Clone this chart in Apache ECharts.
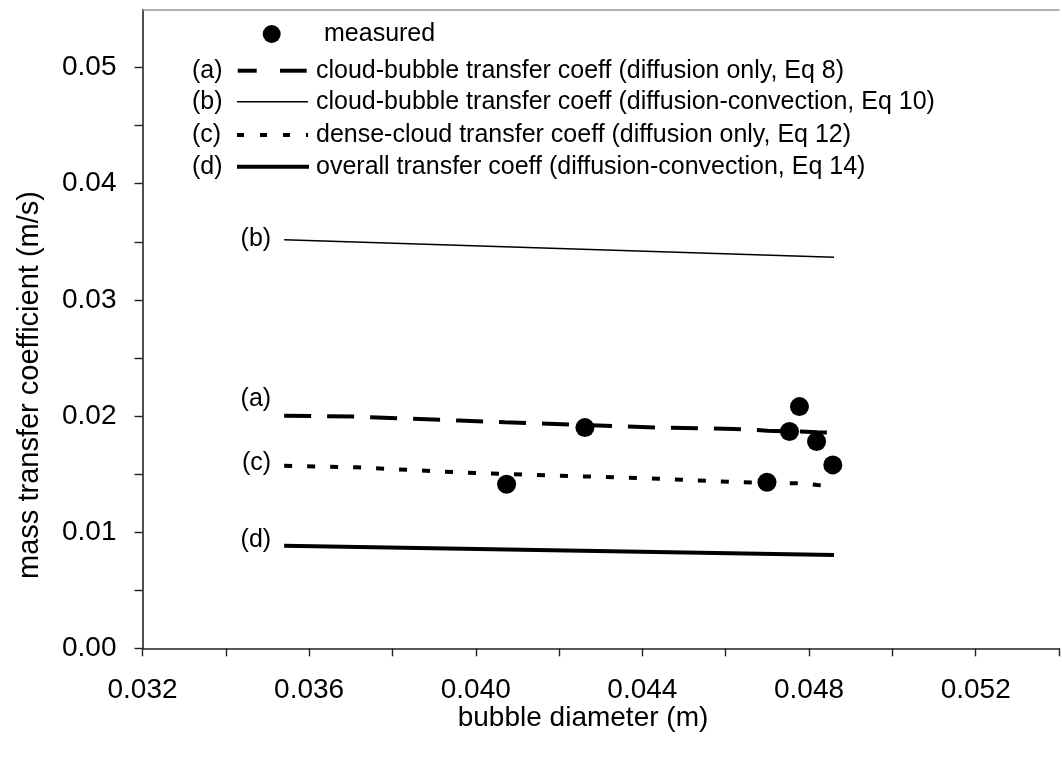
<!DOCTYPE html>
<html><head><meta charset="utf-8">
<script src="https://cdn.jsdelivr.net/npm/echarts@6.0.0/dist/echarts.min.js"></script>
<style>html,body{margin:0;padding:0;background:#fff}#c{width:1062px;height:765px}</style>
</head><body><div id="c"></div>
<script>
// ---- data ----
const xMeasured = [0.04074, 0.04262, 0.04699, 0.04753, 0.04777, 0.04818, 0.04857];
const yMeasured = [0.01413, 0.01900, 0.01430, 0.01866, 0.02081, 0.01780, 0.01579];

const xModel = [0.0354, 0.0371, 0.0396, 0.0407, 0.0426, 0.0444, 0.0462, 0.0470, 0.0475, 0.0478, 0.0482, 0.0486];
const yA = [0.02003, 0.01995, 0.01961, 0.01946, 0.01923, 0.01900, 0.01889, 0.01874, 0.01867, 0.01866, 0.01860, 0.01856];
const yC = [0.01571, 0.01559, 0.01515, 0.01501, 0.01480, 0.01460, 0.01432, 0.01423, 0.01421, 0.01420, 0.01406, 0.01400];

const xB = [0.0354, 0.0486];
const yB = [0.03517, 0.03366];
const xD = [0.0354, 0.0486];
const yD = [0.00884, 0.00804];

const seriesTags = ['(a)', '(b)', '(c)', '(d)'];
const legendNames = [
  'cloud-bubble transfer coeff (diffusion only, Eq 8)',
  'cloud-bubble transfer coeff (diffusion-convection, Eq 10)',
  'dense-cloud transfer coeff (diffusion only, Eq 12)',
  'overall transfer coeff (diffusion-convection, Eq 14)'
];
const measuredName = 'measured';
const xTitle = 'bubble diameter (m)';
const yTitle = 'mass transfer coefficient (m/s)';

// ---- chart ----
const FONT = '"Liberation Sans", Arial, sans-serif';
const zip = (xs, ys) => xs.map((x, i) => [x, ys[i]]);
const chart = echarts.init(document.getElementById('c'), null, {renderer: 'canvas'});

const axisCommon = {
  axisLine: {lineStyle: {color: '#222', width: 1.6}},
  axisTick: {show: true, inside: false, length: 8, lineStyle: {color: '#222', width: 1.4}},
  splitLine: {show: false},
  axisLabel: {color: '#000', fontSize: 28, fontFamily: FONT}
};

const option = {
  animation: false,
  backgroundColor: '#fff',
  grid: {left: 142.5, top: 9.5, right: -4, bottom: 116.7, containLabel: false},
  xAxis: [{
    type: 'value', min: 0.032, max: 0.054, interval: 0.002,
    ...axisCommon,
    axisLabel: {...axisCommon.axisLabel, margin: 28,
      formatter: v => { const k = Math.round((v - 0.032) / 0.002); return k % 2 === 0 ? v.toFixed(3) : ''; }}
  }, {
    type: 'value', position: 'top', min: 0.032, max: 0.054,
    axisLine: {show: true, lineStyle: {color: '#999', width: 1.5}},
    axisTick: {show: false}, axisLabel: {show: false}, splitLine: {show: false}
  }],
  yAxis: {
    type: 'value', min: 0, max: 0.055, interval: 0.005,
    ...axisCommon,
    axisLabel: {...axisCommon.axisLabel, margin: 26, showMaxLabel: false,
      formatter: v => { const k = Math.round(v / 0.005); return k % 2 === 0 ? v.toFixed(2) : ''; }}
  },
  series: [
    {name: legendNames[0], type: 'line', data: zip(xModel, yA), symbol: 'none',
     lineStyle: {color: '#000', width: 4, type: [27, 16], cap: 'butt'}, z: 2},
    {name: legendNames[1], type: 'line', data: zip(xB, yB), symbol: 'none',
     lineStyle: {color: '#000', width: 1.5}, z: 2},
    {name: legendNames[2], type: 'line', data: zip(xModel, yC), symbol: 'none',
     lineStyle: {color: '#000', width: 4, type: [8, 15], cap: 'butt'}, z: 2},
    {name: legendNames[3], type: 'line', data: zip(xD, yD), symbol: 'none',
     lineStyle: {color: '#000', width: 4}, z: 2},
    {name: measuredName, type: 'scatter', data: zip(xMeasured, yMeasured), symbol: 'circle',
     symbolSize: 19, itemStyle: {color: '#000', opacity: 1}, z: 5}
  ]
};
chart.setOption(option);

// tags at the start of each model line
const starts = [[xModel[0], yA[0]], [xB[0], yB[0]], [xModel[0], yC[0]], [xD[0], yD[0]]];
const tagDy = [-17, -1, -3, -6];
const graphics = [];
starts.forEach((p, i) => {
  const px = chart.convertToPixel({xAxisIndex: 0, yAxisIndex: 0}, p);
  graphics.push({type: 'text', x: px[0] - 13, y: px[1] + tagDy[i],
    style: {text: seriesTags[i], font: '25px ' + FONT, fill: '#000', align: 'right', verticalAlign: 'middle'}});
});

// legend block
const LX = 237, LX2 = 308, TX = 316;
const rowY = [70.7, 101.7, 135, 166.7];
graphics.push({type: 'circle', shape: {cx: 271.7, cy: 34, r: 9}, style: {fill: '#000'}});
graphics.push({type: 'text', x: 324, y: 34, style: {text: measuredName, font: '25px ' + FONT, fill: '#000', verticalAlign: 'middle'}});
rowY.forEach((y, i) => {
  graphics.push({type: 'text', x: 192, y: y, style: {text: seriesTags[i], font: '25px ' + FONT, fill: '#000', verticalAlign: 'middle'}});
  graphics.push({type: 'text', x: TX, y: y, style: {text: legendNames[i], font: '25px ' + FONT, fill: '#000', verticalAlign: 'middle'}});
});
graphics.push({type: 'line', shape: {x1: 237.7, y1: rowY[0], x2: 256.7, y2: rowY[0]}, style: {stroke: '#000', lineWidth: 4}});
graphics.push({type: 'line', shape: {x1: 280, y1: rowY[0], x2: 306.7, y2: rowY[0]}, style: {stroke: '#000', lineWidth: 4}});
graphics.push({type: 'line', shape: {x1: LX, y1: rowY[1], x2: LX2, y2: rowY[1]}, style: {stroke: '#000', lineWidth: 1.5}});
graphics.push({type: 'line', shape: {x1: LX, y1: rowY[2], x2: LX2, y2: rowY[2]}, style: {stroke: '#000', lineWidth: 4, lineDash: [7, 16]}});
graphics.push({type: 'line', shape: {x1: LX, y1: rowY[3], x2: LX2 + 1, y2: rowY[3]}, style: {stroke: '#000', lineWidth: 4}});

// axis titles
graphics.push({type: 'text', x: 583, y: 718, style: {text: xTitle, font: '28px ' + FONT, fill: '#000', align: 'center', verticalAlign: 'middle'}});
graphics.push({type: 'text', x: 30, y: 385, rotation: Math.PI / 2, style: {text: yTitle, font: '29px ' + FONT, fill: '#000', align: 'center', verticalAlign: 'middle'}});

chart.setOption({graphic: graphics});
</script></body></html>
